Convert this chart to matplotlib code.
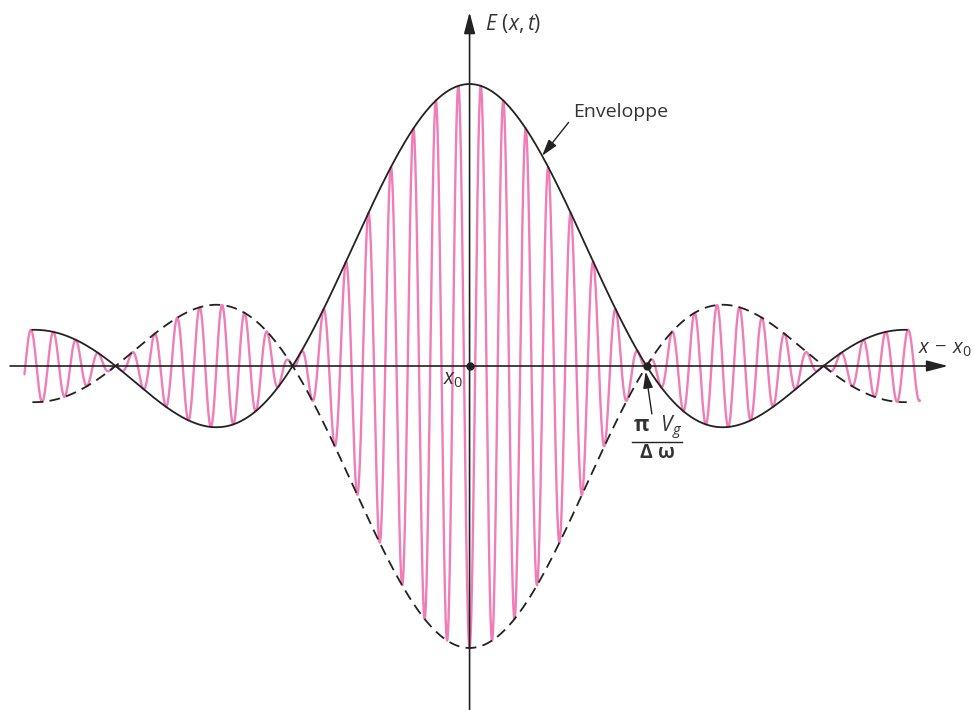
import numpy as np
import matplotlib
matplotlib.use("Agg")
import matplotlib.pyplot as plt

plt.rcParams['font.family'] = ['Open Sans', 'DejaVu Sans']
plt.rcParams['mathtext.fontset'] = 'custom'
plt.rcParams['mathtext.rm'] = 'Open Sans'
plt.rcParams['mathtext.it'] = 'Open Sans:italic'
plt.rcParams['mathtext.bf'] = 'Open Sans:bold'

# x in units of pi*Vg/dw (first zero of the envelope), amplitude normalised to 1
env_span = (-2.47, 2.47)      # where the envelope curves are drawn
wave_span = (-2.515, 2.545)   # where the carrier is drawn
carrier_period = 0.1271       # carrier wavelength, same units as x
peak_amp = 1.0
zero_x = 1.0                  # pi*Vg/dw
xlim = (-2.653, 2.850)
ylim = (-1.220, 1.298)

ink = '#222222'
pink = '#f07db6'


def envelope(x):
    return peak_amp * np.sinc(x / zero_x)


fig = plt.figure(figsize=(9.74, 7.10), dpi=100)
ax = fig.add_axes([0, 0, 1, 1])
ax.set_xlim(*xlim)
ax.set_ylim(*ylim)
ax.axis('off')

# carrier under the envelope
xw = np.linspace(wave_span[0], wave_span[1], 6000)
ew = -envelope(xw) * np.cos(2 * np.pi * xw / carrier_period)
ax.plot(xw, ew, color=pink, lw=1.7, zorder=2, solid_capstyle='round')

# envelope (solid) and its mirror (dashed)
xe = np.linspace(env_span[0], env_span[1], 2000)
ax.plot(xe, envelope(xe), color=ink, lw=1.3, zorder=3)
ax.plot(xe, -envelope(xe), color=ink, lw=1.3, ls=(0, (6, 3.5)), zorder=3)

# axes with arrow heads
arrow = dict(arrowstyle='-|>,head_length=0.65,head_width=0.17', lw=1.2,
             color=ink, shrinkA=0, shrinkB=0, mutation_scale=20)
ax.annotate('', xy=(2.703, 0), xytext=(-2.596, 0), arrowprops=arrow, zorder=4)
ax.annotate('', xy=(0, 1.255), xytext=(0, ylim[0]), arrowprops=arrow, zorder=4)

ax.plot([0, zero_x], [0, 0], 'o', color=ink, ms=5, zorder=5)

ax.text(0.088, 1.215, r'$E\ (x,t)$', fontsize=15, color='#333333',
        ha='left', va='center')
ax.text(2.532, 0.062, r'$x\,-\,x_0$', fontsize=14.5, color='#333333',
        ha='left', va='center')
ax.text(-0.035, -0.048, r'$x_0$', fontsize=15, color='#333333',
        ha='right', va='center')

xa = 0.41
ax.annotate('Enveloppe', xy=(xa, envelope(xa)), xytext=(0.585, 0.90),
            fontsize=14, color='#333333', ha='left', va='center',
            arrowprops=dict(arrowstyle='-|>,head_length=0.5,head_width=0.15',
                            lw=1.0, color=ink, shrinkA=2, shrinkB=0,
                            relpos=(0, 0.25), mutation_scale=20))

# pi*Vg/dw label under the first zero
ax.annotate('', xy=(zero_x - 0.005, -0.02), xytext=(zero_x + 0.03, -0.17),
            arrowprops=dict(arrowstyle='-|>,head_length=0.5,head_width=0.15',
                            lw=1.0, color=ink, shrinkA=0, shrinkB=0,
                            mutation_scale=20))
ax.text(zero_x + 0.06, -0.22, r'$\mathbf{\pi}\ \ V_g$', fontsize=15,
        color='#333333', ha='center', va='center')
ax.plot([zero_x - 0.08, zero_x + 0.2], [-0.270, -0.270], color=ink, lw=1.0)
ax.text(zero_x + 0.06, -0.31, r'$\mathbf{\Delta}\ \mathbf{\omega}$',
        fontsize=14, color='#333333', ha='center', va='center')

fig.savefig('out.png', dpi=100)
